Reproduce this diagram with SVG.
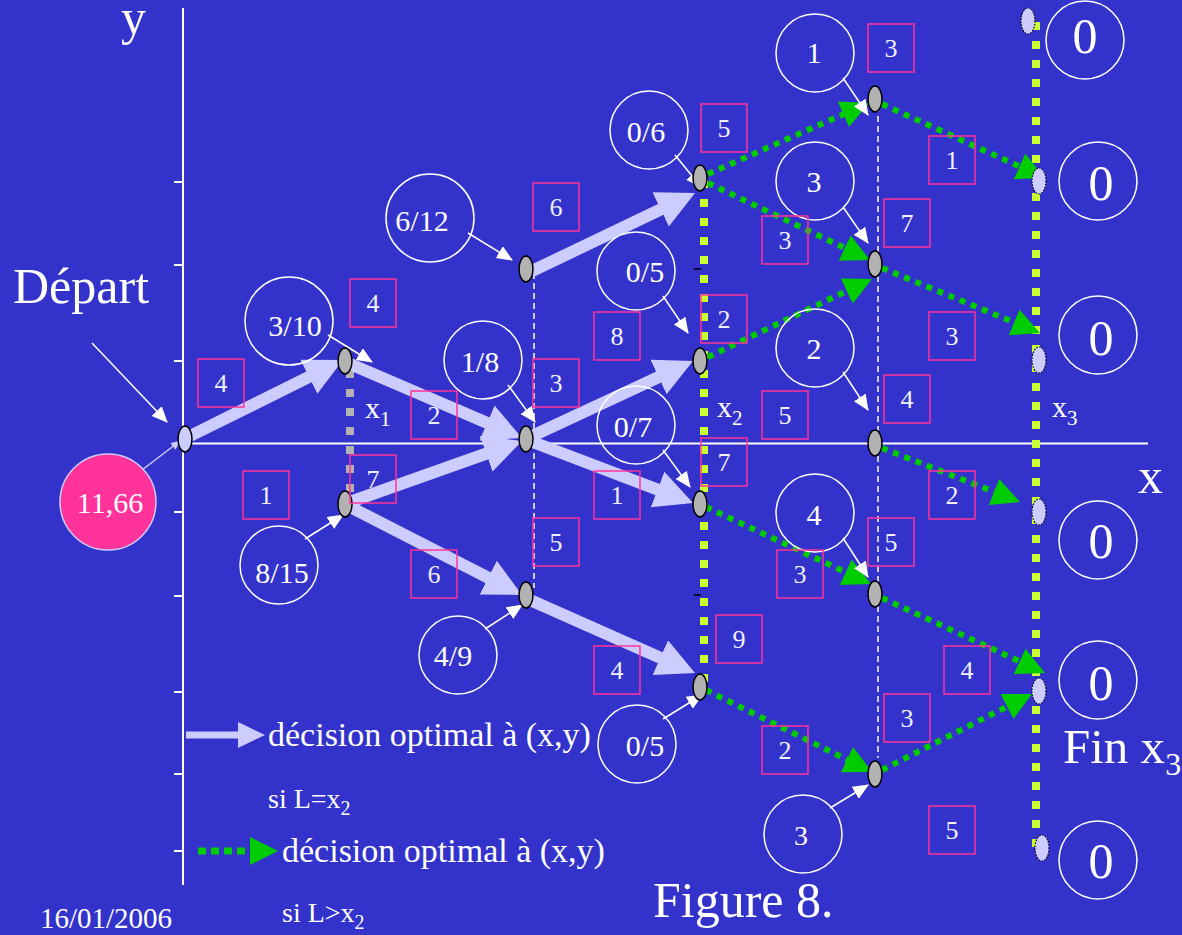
<svg xmlns="http://www.w3.org/2000/svg" width="1182" height="935" viewBox="0 0 1182 935">
<defs>
<style>
text{font-family:"Liberation Serif","Times New Roman",serif;fill:#ffffff}
.circ{fill:none;stroke:#ffffff;stroke-width:1.5}
.ct{font-size:30px;text-anchor:middle}
.zt{font-size:50px;text-anchor:middle}
.box{fill:none;stroke:#ff3399;stroke-width:1.5}
.bt{font-size:26px;text-anchor:middle;fill:#f0f0ff}
.gn{fill:#b2b2b2;stroke:#000;stroke-width:1.5}
.en{fill:#ccccff;stroke:#000;stroke-width:1.2;stroke-dasharray:1.5 1.5}
.lav{stroke:#ccccff;stroke-width:12;fill:none}
.grn{stroke:#00cc00;stroke-width:6;stroke-dasharray:6 6;fill:none}
.wht{stroke:#ffffff;stroke-width:1.5;fill:none}
.yel{stroke:#ccff33;stroke-width:8;stroke-dasharray:8 11;fill:none}
.dash{stroke:#ffffff;stroke-width:1.5;stroke-dasharray:6 4;fill:none}
.axis{stroke:#ffffff;stroke-width:2;fill:none}
</style>
<marker id="mLav" markerUnits="userSpaceOnUse" markerWidth="40" markerHeight="40" refX="8" refY="19" orient="auto"><path d="M0,0 L38,19 L0,38 Z" fill="#ccccff"/></marker>
<marker id="mGrn" markerUnits="userSpaceOnUse" markerWidth="30" markerHeight="30" refX="4" refY="14" orient="auto"><path d="M0,0 L28,14 L0,28 Z" fill="#00cc00"/></marker>
<marker id="mWht" markerUnits="userSpaceOnUse" markerWidth="18" markerHeight="16" refX="15" refY="7" orient="auto"><path d="M0,0 L16,7 L0,14 Z" fill="#ffffff"/></marker>
<marker id="mLavS" markerUnits="userSpaceOnUse" markerWidth="12" markerHeight="12" refX="9" refY="4" orient="auto"><path d="M0,0 L10,4 L0,8 Z" fill="#ccccff"/></marker>
</defs>
<rect x="0" y="0" width="1182" height="935" fill="#3333cc"/>

<g id="axes">
<line class="axis" x1="183" y1="8" x2="183" y2="885"/>
<line class="axis" x1="183" y1="443.5" x2="1148" y2="443.5"/>
<g stroke="#ffffff" stroke-width="2">
<line x1="174" y1="182" x2="183" y2="182"/>
<line x1="174" y1="265" x2="183" y2="265"/>
<line x1="174" y1="361" x2="183" y2="361"/>
<line x1="174" y1="512" x2="183" y2="512"/>
<line x1="174" y1="596" x2="183" y2="596"/>
<line x1="174" y1="692" x2="183" y2="692"/>
<line x1="174" y1="774" x2="183" y2="774"/>
<line x1="174" y1="851" x2="183" y2="851"/>
</g>
<text x="121" y="34" style="font-size:50px">y</text>
<text x="1138" y="493" style="font-size:50px">x</text>
<text x="13" y="303" style="font-size:50px">Départ</text>
</g>

<g id="guides">
<line class="dash" x1="534" y1="273" x2="534" y2="588"/>
<line class="dash" x1="878" y1="106" x2="878" y2="758"/>
<line class="yel" x1="704" y1="180" x2="704" y2="692"/>
<line class="yel" x1="1036" y1="22" x2="1036" y2="850"/>
<line x1="350" y1="370" x2="350" y2="520" stroke="#b2b2b2" stroke-width="8" stroke-dasharray="8 11"/>
<line x1="694" y1="269" x2="701" y2="269" stroke="#000" stroke-width="1.5"/>
<line x1="694" y1="595" x2="701" y2="595" stroke="#000" stroke-width="1.5"/>
<text x="365" y="418" style="font-size:30px">x<tspan dy="8" style="font-size:21px">1</tspan></text>
<text x="717" y="417" style="font-size:30px">x<tspan dy="8" style="font-size:21px">2</tspan></text>
<text x="1052" y="417" style="font-size:30px">x<tspan dy="8" style="font-size:21px">3</tspan></text>
</g>

<g id="connectors">
<line class="lav" x1="190" y1="436" x2="316.1" y2="373.3" marker-end="url(#mLav)"/>
<line class="lav" x1="350" y1="364" x2="494.4" y2="426.1" marker-end="url(#mLav)"/>
<line class="lav" x1="350" y1="502" x2="493.7" y2="451.0" marker-end="url(#mLav)"/>
<line class="lav" x1="350" y1="507" x2="495.3" y2="581.3" marker-end="url(#mLav)"/>
<line class="lav" x1="532" y1="271" x2="667.9" y2="206.0" marker-end="url(#mLav)"/>
<line class="lav" x1="530" y1="437" x2="665.8" y2="373.7" marker-end="url(#mLav)"/>
<line class="lav" x1="530" y1="441" x2="665.0" y2="492.3" marker-end="url(#mLav)"/>
<line class="lav" x1="530" y1="600" x2="667.6" y2="660.9" marker-end="url(#mLav)"/>

<line class="grn" x1="708" y1="174" x2="847.0" y2="112.7" marker-end="url(#mGrn)"/>
<line class="grn" x1="708" y1="183" x2="848.3" y2="249.7" marker-end="url(#mGrn)"/>
<line class="grn" x1="708" y1="357" x2="850.3" y2="289.3" marker-end="url(#mGrn)"/>
<line class="grn" x1="882" y1="104" x2="1023.1" y2="168.1" marker-end="url(#mGrn)"/>
<line class="grn" x1="882" y1="268" x2="1017.8" y2="323.9" marker-end="url(#mGrn)"/>
<line class="grn" x1="882" y1="448" x2="997.7" y2="493.3" marker-end="url(#mGrn)"/>
<line class="grn" x1="706" y1="507" x2="849.3" y2="573.9" marker-end="url(#mGrn)"/>
<line class="grn" x1="882" y1="598" x2="1023.2" y2="663.0" marker-end="url(#mGrn)"/>
<line class="grn" x1="706" y1="690" x2="850.5" y2="761.4" marker-end="url(#mGrn)"/>
<line class="grn" x1="882" y1="770" x2="1010.6" y2="704.8" marker-end="url(#mGrn)"/>

<line class="wht" x1="92" y1="343" x2="167" y2="422" marker-end="url(#mWht)"/>
<line class="wht" x1="328" y1="335" x2="372" y2="362" marker-end="url(#mWht)"/>
<line class="wht" x1="305" y1="539" x2="343" y2="515" marker-end="url(#mWht)"/>
<line class="wht" x1="468" y1="233" x2="512" y2="260" marker-end="url(#mWht)"/>
<line class="wht" x1="508" y1="385" x2="535" y2="422" marker-end="url(#mWht)"/>
<line class="wht" x1="675" y1="155" x2="701" y2="187" marker-end="url(#mWht)"/>
<line class="wht" x1="663" y1="296" x2="688" y2="333" marker-end="url(#mWht)"/>
<line class="wht" x1="663" y1="450" x2="690" y2="487" marker-end="url(#mWht)"/>
<line class="wht" x1="485" y1="629" x2="522" y2="605" marker-end="url(#mWht)"/>
<line class="wht" x1="663" y1="719" x2="702" y2="695" marker-end="url(#mWht)"/>
<line class="wht" x1="843" y1="78" x2="868" y2="115" marker-end="url(#mWht)"/>
<line class="wht" x1="843" y1="207" x2="868" y2="243" marker-end="url(#mWht)"/>
<line class="wht" x1="843" y1="372" x2="868" y2="410" marker-end="url(#mWht)"/>
<line class="wht" x1="843" y1="538" x2="868" y2="577" marker-end="url(#mWht)"/>
<line class="wht" x1="830" y1="808" x2="868" y2="785" marker-end="url(#mWht)"/>
<line x1="142" y1="470" x2="180" y2="441" stroke="#ccccff" stroke-width="1.5" marker-end="url(#mLavS)"/>
</g>

<g id="nodes">
<ellipse id="start" cx="185" cy="439" rx="7" ry="13" fill="#ccccff" stroke="#000" stroke-width="1.5"/>
<g id="n-3-10"><ellipse class="gn" cx="345" cy="361" rx="7" ry="13"/></g>
<g id="n-8-15"><ellipse class="gn" cx="345" cy="504" rx="7" ry="13"/></g>
<g id="n-6-12"><ellipse class="gn" cx="526" cy="269" rx="7" ry="13"/></g>
<g id="n-1-8"><ellipse class="gn" cx="526" cy="439" rx="7" ry="13"/></g>
<g id="n-4-9"><ellipse class="gn" cx="526" cy="595" rx="7" ry="13"/></g>
<g id="n-0-6"><ellipse class="gn" cx="700" cy="178" rx="7" ry="13"/></g>
<g id="n-0-5a"><ellipse class="gn" cx="700" cy="361" rx="7" ry="13"/></g>
<g id="n-0-7"><ellipse class="gn" cx="700" cy="504" rx="7" ry="13"/></g>
<g id="n-0-5b"><ellipse class="gn" cx="700" cy="687" rx="7" ry="13"/></g>
<g id="n4a"><ellipse class="gn" cx="875" cy="99" rx="7" ry="13"/></g>
<g id="n4b"><ellipse class="gn" cx="875" cy="264" rx="7" ry="13"/></g>
<g id="n4c"><ellipse class="gn" cx="875" cy="443" rx="7" ry="13"/></g>
<g id="n4d"><ellipse class="gn" cx="875" cy="594" rx="7" ry="13"/></g>
<g id="n4e"><ellipse class="gn" cx="875" cy="774" rx="7" ry="13"/></g>
<g id="e1"><ellipse class="en" cx="1028" cy="21" rx="7" ry="13"/></g>
<g id="e2"><ellipse class="en" cx="1039" cy="181" rx="7" ry="13"/></g>
<g id="e3"><ellipse class="en" cx="1039" cy="360" rx="7" ry="13"/></g>
<g id="e4"><ellipse class="en" cx="1039" cy="512" rx="7" ry="13"/></g>
<g id="e5"><ellipse class="en" cx="1039" cy="691" rx="7" ry="13"/></g>
<g id="e6"><ellipse class="en" cx="1042" cy="848" rx="7" ry="13"/></g>

<g id="total"><circle cx="108" cy="502" r="48" fill="#ff3399" stroke="#ccccff" stroke-width="1.5"/><text x="110" y="513" style="font-size:30px;text-anchor:middle">11,66</text></g>

<g id="c-3-10"><circle class="circ" cx="289" cy="321" r="44"/><text class="ct" x="295" y="336">3/10</text></g>
<g id="c-8-15"><circle class="circ" cx="279" cy="565" r="39"/><text class="ct" x="282" y="583">8/15</text></g>
<g id="c-6-12"><circle class="circ" cx="430" cy="218" r="44"/><text class="ct" x="422" y="231">6/12</text></g>
<g id="c-1-8"><circle class="circ" cx="483" cy="360" r="39"/><text class="ct" x="480" y="372">1/8</text></g>
<g id="c-4-9"><circle class="circ" cx="458" cy="655" r="39"/><text class="ct" x="453" y="666">4/9</text></g>
<g id="c-0-6"><circle class="circ" cx="649" cy="130" r="39"/><text class="ct" x="646" y="142">0/6</text></g>
<g id="c-0-5a"><circle class="circ" cx="636" cy="271" r="39"/><text class="ct" x="645" y="282">0/5</text></g>
<g id="c-0-7"><circle class="circ" cx="636" cy="425" r="39"/><text class="ct" x="633" y="437">0/7</text></g>
<g id="c-0-5b"><circle class="circ" cx="637" cy="744" r="39"/><text class="ct" x="645" y="756">0/5</text></g>
<g id="c-1"><circle class="circ" cx="815" cy="53" r="39"/><text class="ct" x="814" y="63">1</text></g>
<g id="c-3a"><circle class="circ" cx="815" cy="181" r="39"/><text class="ct" x="814" y="192">3</text></g>
<g id="c-2"><circle class="circ" cx="815" cy="348" r="39"/><text class="ct" x="814" y="359">2</text></g>
<g id="c-4"><circle class="circ" cx="815" cy="513" r="39"/><text class="ct" x="814" y="525">4</text></g>
<g id="c-3b"><circle class="circ" cx="803" cy="834" r="39"/><text class="ct" x="801" y="845" style="font-size:28px">3</text></g>

<g id="z1"><circle class="circ" cx="1085" cy="40" r="39"/><text class="zt" x="1085" y="53">0</text></g>
<g id="z2"><circle class="circ" cx="1098" cy="181" r="39"/><text class="zt" x="1101" y="200">0</text></g>
<g id="z3"><circle class="circ" cx="1098" cy="335" r="39"/><text class="zt" x="1101" y="355">0</text></g>
<g id="z4"><circle class="circ" cx="1098" cy="540" r="39"/><text class="zt" x="1101" y="558">0</text></g>
<g id="z5"><circle class="circ" cx="1098" cy="680" r="39"/><text class="zt" x="1101" y="700">0</text></g>
<g id="z6"><circle class="circ" cx="1098" cy="860" r="39"/><text class="zt" x="1101" y="878">0</text></g>
</g>

<g id="costs">
<rect class="box" x="198" y="359" width="46" height="48"/><text class="bt" x="221" y="392">4</text>
<rect class="box" x="243" y="471" width="46" height="48"/><text class="bt" x="266" y="504">1</text>
<rect class="box" x="350" y="279" width="46" height="48"/><text class="bt" x="373" y="312">4</text>
<rect class="box" x="350" y="455" width="46" height="48"/><text class="bt" x="373" y="488">7</text>
<rect class="box" x="411" y="391" width="46" height="48"/><text class="bt" x="434" y="424">2</text>
<rect class="box" x="411" y="550" width="46" height="48"/><text class="bt" x="434" y="583">6</text>
<rect class="box" x="533" y="183" width="46" height="48"/><text class="bt" x="556" y="216">6</text>
<rect class="box" x="533" y="359" width="46" height="48"/><text class="bt" x="556" y="392">3</text>
<rect class="box" x="533" y="518" width="46" height="48"/><text class="bt" x="556" y="551">5</text>
<rect class="box" x="594" y="312" width="46" height="48"/><text class="bt" x="617" y="345">8</text>
<rect class="box" x="594" y="471" width="46" height="48"/><text class="bt" x="617" y="504">1</text>
<rect class="box" x="594" y="646" width="46" height="48"/><text class="bt" x="617" y="679">4</text>
<rect class="box" x="701" y="104" width="46" height="48"/><text class="bt" x="724" y="137">5</text>
<rect class="box" x="701" y="295" width="46" height="48"/><text class="bt" x="724" y="328">2</text>
<rect class="box" x="701" y="438" width="46" height="48"/><text class="bt" x="724" y="471">7</text>
<rect class="box" x="716" y="615" width="46" height="48"/><text class="bt" x="739" y="648">9</text>
<rect class="box" x="762" y="216" width="46" height="48"/><text class="bt" x="785" y="249">3</text>
<rect class="box" x="762" y="391" width="46" height="48"/><text class="bt" x="785" y="424">5</text>
<rect class="box" x="777" y="550" width="46" height="48"/><text class="bt" x="800" y="583">3</text>
<rect class="box" x="762" y="726" width="46" height="48"/><text class="bt" x="785" y="759">2</text>
<rect class="box" x="868" y="24" width="46" height="48"/><text class="bt" x="891" y="57">3</text>
<rect class="box" x="884" y="199" width="46" height="48"/><text class="bt" x="907" y="232">7</text>
<rect class="box" x="884" y="375" width="46" height="48"/><text class="bt" x="907" y="408">4</text>
<rect class="box" x="868" y="518" width="46" height="48"/><text class="bt" x="891" y="551">5</text>
<rect class="box" x="884" y="694" width="46" height="48"/><text class="bt" x="907" y="727">3</text>
<rect class="box" x="929" y="136" width="46" height="48"/><text class="bt" x="952" y="169">1</text>
<rect class="box" x="929" y="312" width="46" height="48"/><text class="bt" x="952" y="345">3</text>
<rect class="box" x="929" y="471" width="46" height="48"/><text class="bt" x="952" y="504">2</text>
<rect class="box" x="944" y="646" width="46" height="48"/><text class="bt" x="967" y="679">4</text>
<rect class="box" x="929" y="806" width="46" height="48"/><text class="bt" x="952" y="839">5</text>
</g>

<g id="legend">
<line x1="186" y1="735" x2="240" y2="735" stroke="#ccccff" stroke-width="7"/>
<polygon points="238,722 265,735 238,748" fill="#ccccff"/>
<text x="268" y="746" style="font-size:34px">décision optimal à (x,y)</text>
<text x="268" y="808" style="font-size:28px">si L=x<tspan dy="7" style="font-size:20px">2</tspan></text>
<line x1="198" y1="851" x2="250" y2="851" stroke="#00cc00" stroke-width="7" stroke-dasharray="8 5"/>
<polygon points="250,837 278,851 250,865" fill="#00cc00"/>
<text x="282" y="862" style="font-size:34px">décision optimal à (x,y)</text>
<text x="282" y="922" style="font-size:28px">si L&gt;x<tspan dy="7" style="font-size:20px">2</tspan></text>
</g>

<g id="captions">
<text x="40" y="928" style="font-size:29px">16/01/2006</text>
<text x="653" y="917" style="font-size:50px">Figure 8.</text>
<text x="1063" y="763" style="font-size:49px">Fin x<tspan dy="12" style="font-size:32px">3</tspan></text>
</g>
</svg>
